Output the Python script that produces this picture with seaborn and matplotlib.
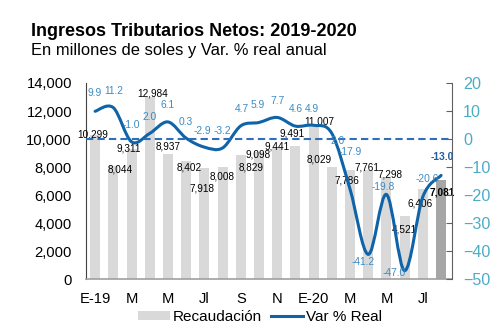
import matplotlib
matplotlib.use("Agg")
import matplotlib.pyplot as plt
from matplotlib.path import Path
from matplotlib.patches import PathPatch, Patch
from matplotlib.lines import Line2D
import seaborn as sns
import pandas as pd
import numpy as np

# ---- data ----
months = ["2019-01", "2019-02", "2019-03", "2019-04", "2019-05", "2019-06", "2019-07",
          "2019-08", "2019-09", "2019-10", "2019-11", "2019-12", "2020-01", "2020-02",
          "2020-03", "2020-04", "2020-05", "2020-06", "2020-07", "2020-08"]
recaudacion = [10299, 8044, 9311, 12984, 8937, 8402, 7918, 8008, 8829, 9098, 9441, 9491,
               11007, 8029, 7786, 7761, 7298, 4521, 6406, 7081]
var_real = [9.9, 11.2, -1.0, 2.0, 6.1, 0.3, -2.9, -3.2, 4.7, 5.9, 7.7, 4.6,
            4.9, 2.0, -17.9, -41.2, -19.8, -47.0, -20.6, -13.0]
tick_labels = ["E-19", "M", "M", "Jl", "S", "N", "E-20", "M", "M", "Jl"]
title = "Ingresos Tributarios Netos: 2019-2020"
subtitle = "En millones de soles y Var. % real anual"

# ---- label offsets (pixels) ----
bar_off = [(-2, 0), (7, -3), (-3, 0), (3, 4), (0, 7), (3, -6), (-2, -20), (0, -10),
           (10, -12), (-1, -3), (0, 0), (-3, 13), (6, 3), (-13, 7), (-3, -10), (-1, 3),
           (4, 2), (0, -14), (-3, -14), (1, -13)]
line_off = [(0, 18), (0, 17), (0, 17), (0, 16), (0, 17), (0, 16), (-2, 16), (0, 17),
            (1, 17), (-1, 17), (0, 16), (0, 17), (-2, 16), (6, -8), (0, 37), (-5, -8),
            (-3, 7), (-10, -2), (4, 18), (1, 18)]

plt.rcParams['font.family'] = ['Liberation Sans', 'DejaVu Sans']
DPI = 100
fig = plt.figure(figsize=(5.0, 3.32), dpi=DPI)
ax = fig.add_axes([0.172, 0.1596, 0.732, 0.5904])

df = pd.DataFrame({"mes": months, "rec": recaudacion})
colors = ["#d9d9d9"] * (len(months) - 1) + ["#a6a6a6"]
sns.barplot(data=df, x="mes", y="rec", hue="mes", palette=colors, legend=False,
            width=0.55, ax=ax, saturation=1)
ax.set_ylim(0, 14000)
ax.set_xlim(-0.5, 19.6)
ax.set_yticks(range(0, 14001, 2000))
ax.set_yticklabels([f"{v:,}" for v in range(0, 14001, 2000)])
ax.set_xticks(range(0, 20, 2))
ax.set_xticklabels(tick_labels)
ax.set_xlabel("")
ax.set_ylabel("")
ax.tick_params(axis="y", length=0, labelsize=10.6, pad=10, colors="black")
ax.tick_params(axis="x", length=0, labelsize=10.6, pad=9)
for s in ["top", "right"]:
    ax.spines[s].set_visible(False)
ax.spines["left"].set_color("#404040")
ax.spines["bottom"].set_color("#a0a0a0")
ax.spines["bottom"].set_linewidth(1.2)

px = 72.0 / DPI
for i, v in enumerate(recaudacion):
    dx, dy = bar_off[i]
    ax.annotate(f"{v:,}", (i, v), xytext=(dx * px, dy * px), textcoords="offset points",
                ha="center", va="center", fontsize=7.2,
                fontweight="bold" if i == len(recaudacion) - 1 else "normal",
                color="black")

ax2 = ax.twinx()
ax2.set_ylim(-50, 20)
ax2.set_yticks(range(-50, 21, 10))
ax2.tick_params(axis="y", direction="in", length=4, labelsize=11.6, pad=8,
                labelcolor="#4bacc6", color="#606060")
for s in ["top", "left", "bottom"]:
    ax2.spines[s].set_visible(False)
ax2.spines["right"].set_color("#606060")

ax2.axhline(0, color="#2f6eba", lw=1.5, dashes=(3.5, 2))

# smoothed line (Catmull-Rom via Bezier segments)
xs = np.arange(len(var_real), dtype=float)
ys = np.array(var_real, dtype=float)
n = len(xs)
verts = [(xs[0], ys[0])]
codes = [Path.MOVETO]
for i in range(n - 1):
    p0 = np.array([xs[max(i - 1, 0)], ys[max(i - 1, 0)]])
    p1 = np.array([xs[i], ys[i]])
    p2 = np.array([xs[i + 1], ys[i + 1]])
    p3 = np.array([xs[min(i + 2, n - 1)], ys[min(i + 2, n - 1)]])
    c1 = p1 + (p2 - p0) / 6.0
    c2 = p2 - (p3 - p1) / 6.0
    verts += [tuple(c1), tuple(c2), tuple(p2)]
    codes += [Path.CURVE4] * 3
ax2.add_patch(PathPatch(Path(verts, codes), facecolor="none", edgecolor="#0f63a8",
                        lw=2.2, capstyle="round", joinstyle="round"))

for i, v in enumerate(var_real):
    dx, dy = line_off[i]
    last = i == len(var_real) - 1
    ax2.annotate(f"{v:.1f}", (i, v), xytext=(dx * px, dy * px), textcoords="offset points",
                 ha="center", va="center", fontsize=7.4,
                 fontweight="bold" if last else "normal",
                 color="#1f5f9f" if last else "#3b8cc4")

fig.text(0.062, 1 - 31 / 332, title, fontsize=13.0, fontweight="bold", va="center", ha="left")
fig.text(0.062, 1 - 50 / 332, subtitle, fontsize=11.9, va="center", ha="left")

handles = [Patch(facecolor="#d9d9d9", edgecolor="none"),
           Line2D([0], [0], color="#0f63a8", lw=2.2)]
fig.legend(handles, ["Recaudación", "Var % Real"], loc="center",
           bbox_to_anchor=(0.52, 1 - 317 / 332), ncol=2, frameon=False,
           fontsize=11, handlelength=2.1, handleheight=0.55, handletextpad=0.2,
           columnspacing=0.6)

fig.savefig("out.png", dpi=DPI)
